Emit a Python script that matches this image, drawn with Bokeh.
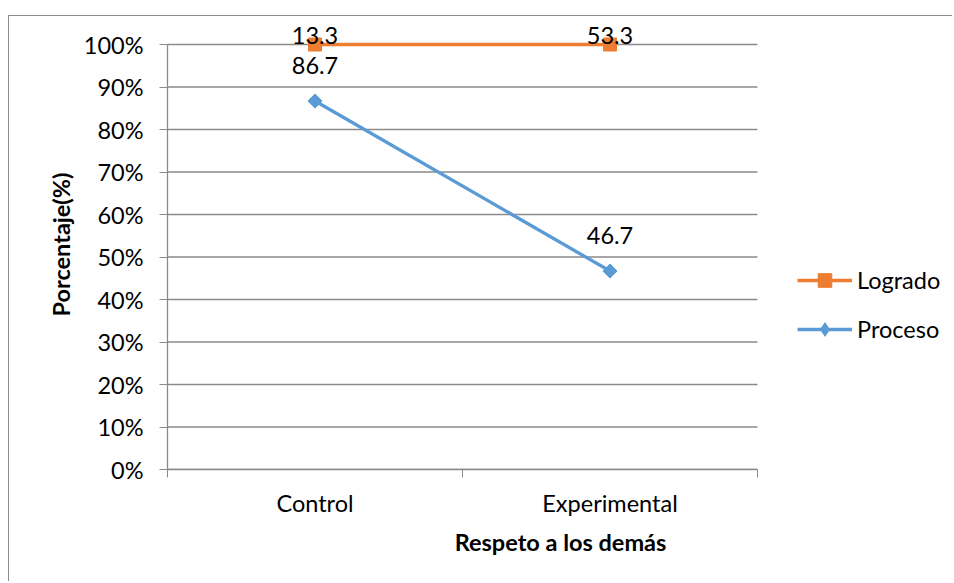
from bokeh.plotting import figure
from bokeh.models import FixedTicker, Legend, LegendItem
from bokeh.core.properties import value
from bokeh.embed import file_html
from bokeh.resources import INLINE

categories = ["Control", "Experimental"]
proceso = [86.7, 46.7]
logrado = [13.3, 53.3]
y_ticks = [0, 10, 20, 30, 40, 50, 60, 70, 80, 90, 100]
y_tick_labels = [f"{t}%" for t in y_ticks]
x_title = "Respeto a los demás"
y_title = "Porcentaje(%)"
series_names = ["Logrado", "Proceso"]

FONT = "Lato"
FS = "23.5px"
GRID = "#8a8a8a"
ORANGE = "#ED7D31"
BLUE = "#5B9BD5"

x = [i + 0.5 for i in range(len(categories))]
logrado_stacked = [a + b for a, b in zip(proceso, logrado)]
n = len(categories)

# layout (px): plot area 590 x 425 for the categories / 0-100 %
W, H = 944, 566
LEFT, TOP, BOTTOM = 158, 3, 113
frame_w = W - LEFT
frame_h = H - TOP - BOTTOM
x_end = n * frame_w / 590.0          # extra room on the right holds the legend
y_top = 100 * frame_h / 425.0        # headroom above 100 % for the top labels

p = figure(width=W, height=H, x_range=(0, x_end), y_range=(0, y_top),
           output_backend="svg", toolbar_location=None,
           min_border_left=LEFT, min_border_top=TOP, min_border_right=0, min_border_bottom=BOTTOM)
p.margin = (15, 0, 0, 8)
p.styles = {"border-left": "1.5px solid #8c8c8c", "border-top": "1.5px solid #8c8c8c"}
p.outline_line_color = None
p.background_fill_color = "white"
p.border_fill_color = "white"

# horizontal gridlines limited to the category span
p.xgrid.grid_line_color = None
p.ygrid.grid_line_color = None
p.segment(x0=[0] * len(y_ticks), x1=[n] * len(y_ticks), y0=y_ticks, y1=y_ticks,
          line_color=GRID, line_width=1.3)

# y axis
p.yaxis.ticker = FixedTicker(ticks=y_ticks)
p.yaxis.bounds = (0, 100)
p.yaxis.major_label_overrides = dict(zip(y_ticks, y_tick_labels))
p.yaxis.minor_tick_line_color = None
p.yaxis.major_tick_out = 8
p.yaxis.major_tick_in = 0
p.yaxis.major_tick_line_color = GRID
p.yaxis.axis_line_color = GRID
p.yaxis.axis_line_width = 1.3
p.yaxis.major_label_standoff = 16
p.yaxis.axis_label = y_title
p.yaxis.axis_label_standoff = 6

# x axis
p.xaxis.ticker = FixedTicker(ticks=x, minor_ticks=list(range(n + 1)))
p.xaxis.bounds = (0, n)
p.xaxis.major_label_overrides = {xi: c for xi, c in zip(x, categories)}
p.xaxis.major_tick_line_color = None
p.xaxis.major_tick_out = 0
p.xaxis.minor_tick_line_color = GRID
p.xaxis.minor_tick_out = 8
p.xaxis.minor_tick_in = 0
p.xaxis.axis_line_color = GRID
p.xaxis.axis_line_width = 1.3
p.xaxis.major_label_standoff = 11
p.xaxis.axis_label = x_title
p.xaxis.axis_label_standoff = 8

for ax in (p.xaxis, p.yaxis):
    ax.major_label_text_font = FONT
    ax.major_label_text_font_size = FS
    ax.major_label_text_color = "black"
    ax.axis_label_text_font = FONT
    ax.axis_label_text_font_size = FS
    ax.axis_label_text_font_style = "bold"
    ax.axis_label_text_color = "black"

# series
l_log = p.line(x, logrado_stacked, line_color=ORANGE, line_width=3.3)
m_log = p.scatter(x, logrado_stacked, marker="square", size=13, fill_color=ORANGE, line_color=ORANGE)
l_pro = p.line(x, proceso, line_color=BLUE, line_width=3.3)
# diamond used for the legend swatch (hidden beneath the rotated square in the plot)
m_pro_leg = p.scatter(x, proceso, marker="diamond", size=13, fill_color=BLUE, line_color=BLUE, line_width=1)
m_pro = p.scatter(x, proceso, marker="square", angle=0.785398, size=10, fill_color=BLUE, line_color=BLUE)

# data labels
p.text(x, logrado_stacked, text=[f"{v:.1f}" for v in logrado], y_offset=-9,
       text_font=value(FONT), text_font_size=FS, text_align="center", text_baseline="middle",
       text_color="black")
p.text(x, proceso, text=[f"{v:.1f}" for v in proceso], y_offset=-36,
       text_font=value(FONT), text_font_size=FS, text_align="center", text_baseline="middle",
       text_color="black")

legend = Legend(items=[LegendItem(label=series_names[0], renderers=[l_log, m_log]),
                       LegendItem(label=series_names[1], renderers=[l_pro, m_pro_leg])],
                location=(630, 123), glyph_width=55, glyph_height=34, label_height=34,
                spacing=15, padding=0, margin=0, label_standoff=5,
                border_line_color=None, background_fill_alpha=0,
                label_text_font=FONT, label_text_font_size=FS, label_text_color="black")
p.add_layout(legend)

open("out.html", "w").write(file_html(p, INLINE))
